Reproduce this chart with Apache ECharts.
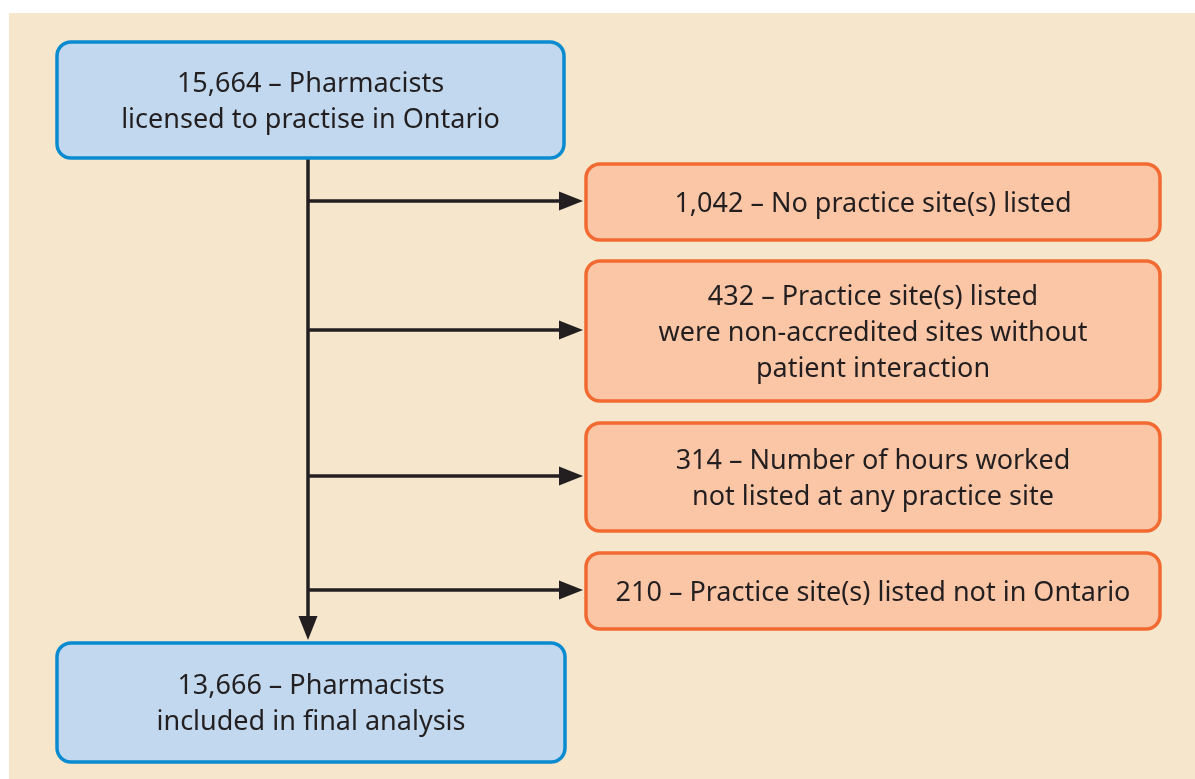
<!DOCTYPE html>
<html>

<head>
    <meta charset="utf-8">
    <title>Flow</title>
    <script src="https://cdn.jsdelivr.net/npm/echarts@6/dist/echarts.min.js"></script>
    <style>
        html, body { margin: 0; padding: 0; background: #fff; }
    </style>
</head>

<body>
    <div id="main" style="width: 1195px;height:779px;"></div>

    <script type="text/javascript">

        // texts of the flow
        var startText = ['15,664 – Pharmacists', 'licensed to practise in Ontario'];
        var finalText = ['13,666 – Pharmacists', 'included in final analysis'];
        var exclusionCounts = ['1,042', '432', '314', '210'];
        var exclusionReasons = [
            ['No practice site(s) listed'],
            ['Practice site(s) listed', 'were non-accredited sites without', 'patient interaction'],
            ['Number of hours worked', 'not listed at any practice site'],
            ['Practice site(s) listed not in Ontario']
        ];

        // layout (pixel units of the hidden axes)
        var W = 1195, H = 779;
        var mainBoxes = [[57, 42, 564, 158], [57, 643, 565, 762]];
        var sideX = [586, 1160];
        var sideY = [[164, 240], [261, 401], [423, 531], [553, 629]];
        var trunkX = 308;

        var BLUE_FILL = '#c1d8ee', BLUE_LINE = '#0a8bd0';
        var ORANGE_FILL = '#fbc6a6', ORANGE_LINE = '#f26a31';
        var INK = '#231f20';
        var FONT = 'Noto Sans';

        var boxes = [];
        boxes.push({ r: mainBoxes[0], lines: startText, kind: 'main' });
        boxes.push({ r: mainBoxes[1], lines: finalText, kind: 'main' });
        exclusionCounts.forEach(function (c, i) {
            var lines = exclusionReasons[i].slice();
            lines[0] = c + ' – ' + lines[0];
            boxes.push({ r: [sideX[0], sideY[i][0], sideX[1], sideY[i][1]], lines: lines, kind: 'side' });
        });

        // arrows: [x1, y1, x2, y2]
        var arrows = [[trunkX, mainBoxes[0][3], trunkX, mainBoxes[1][1] - 3]];
        sideY.forEach(function (s) {
            var y = Math.floor((s[0] + s[1]) / 2) - 1;
            arrows.push([trunkX, y, sideX[0] - 3, y]);
        });

        function renderBox(params, api) {
            var b = boxes[params.dataIndex];
            var p1 = api.coord([b.r[0], b.r[1]]);
            var p2 = api.coord([b.r[2], b.r[3]]);
            var main = b.kind == 'main';
            return {
                type: 'group',
                children: [{
                    type: 'rect',
                    shape: { x: p1[0], y: p1[1], width: p2[0] - p1[0], height: p2[1] - p1[1], r: 14 },
                    style: { fill: main ? BLUE_FILL : ORANGE_FILL, stroke: main ? BLUE_LINE : ORANGE_LINE, lineWidth: 3.5 }
                }, {
                    type: 'text',
                    x: (p1[0] + p2[0]) / 2,
                    y: (p1[1] + p2[1]) / 2 + 2,
                    style: {
                        text: b.lines.join('\n'),
                        fill: INK,
                        font: '27px "' + FONT + '"',
                        lineHeight: 36,
                        align: 'center',
                        verticalAlign: 'middle'
                    }
                }]
            };
        }

        function renderArrow(params, api) {
            var a = arrows[params.dataIndex];
            var s = api.coord([a[0], a[1]]);
            var e = api.coord([a[2], a[3]]);
            var dx = e[0] - s[0], dy = e[1] - s[1];
            var len = Math.sqrt(dx * dx + dy * dy);
            var ux = dx / len, uy = dy / len;
            var hl = 24, hw = 9.5;
            var bx = e[0] - ux * hl, by = e[1] - uy * hl;
            return {
                type: 'group',
                children: [{
                    type: 'line',
                    shape: { x1: s[0], y1: s[1], x2: bx, y2: by },
                    style: { stroke: INK, lineWidth: 3.5 }
                }, {
                    type: 'polygon',
                    shape: { points: [[e[0], e[1]], [bx - uy * hw, by + ux * hw], [bx + uy * hw, by - ux * hw]] },
                    style: { fill: INK }
                }]
            };
        }

        var chart = echarts.init(document.getElementById('main'));

        chart.setOption({
            animation: false,
            backgroundColor: '#ffffff',
            graphic: [{
                type: 'rect',
                shape: { x: 9, y: 13, width: W - 9, height: H - 13 },
                style: { fill: '#f5e6cc' },
                z: -10
            }],
            grid: { left: 0, right: 0, top: 0, bottom: 0 },
            xAxis: { type: 'value', min: 0, max: W, show: false },
            yAxis: { type: 'value', min: 0, max: H, inverse: true, show: false },
            series: [{
                type: 'custom',
                renderItem: renderArrow,
                data: arrows,
                z: 2
            }, {
                type: 'custom',
                renderItem: renderBox,
                data: boxes.map(function (b) { return b.r; }),
                z: 3
            }]
        });

    </script>
</body>

</html>
